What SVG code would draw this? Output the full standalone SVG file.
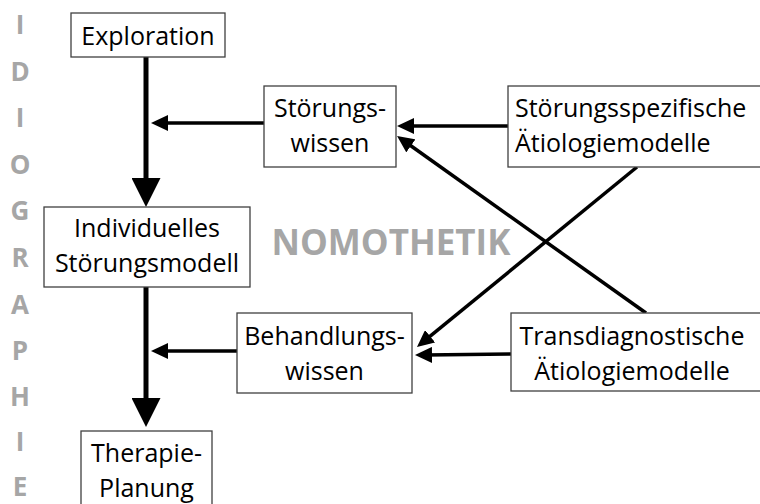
<svg xmlns="http://www.w3.org/2000/svg" width="760" height="504" viewBox="0 0 760 504">
<defs>
<style>
.box{fill:#fff;stroke:#404040;stroke-width:1.3}
.t{font-family:"Open Sans","Noto Sans",sans-serif;font-size:25px;fill:#000;text-anchor:middle}
.g{font-family:"Open Sans","Noto Sans",sans-serif;font-weight:bold;fill:#a6a6a6;text-anchor:middle}
.thick{stroke:#000;stroke-width:5;fill:none}
.thin{stroke:#000;stroke-width:3.5;fill:none}
</style>
<marker id="big" markerUnits="userSpaceOnUse" viewBox="0 0 29 29" markerWidth="29" markerHeight="29" refX="12" refY="14.5" orient="auto"><path d="M0,0 L29,14.5 L0,29 z" fill="#000"/></marker>
<marker id="small" markerUnits="userSpaceOnUse" viewBox="0 0 17 16" markerWidth="17" markerHeight="16" refX="7" refY="8" orient="auto"><path d="M0,0 L17,8 L0,16 z" fill="#000"/></marker>
</defs>
<rect width="760" height="504" fill="#fff"/>
<g id="idiographie" class="g" font-size="26">
<text x="20" y="34">I</text>
<text x="20" y="81">D</text>
<text x="20" y="127">I</text>
<text x="20" y="174">O</text>
<text x="20" y="220">G</text>
<text x="20" y="267">R</text>
<text x="20" y="314">A</text>
<text x="20" y="360">P</text>
<text x="20" y="406">H</text>
<text x="20" y="451">I</text>
<text x="20" y="496">E</text>
</g>
<text id="nomothetik" class="g" font-size="35" x="391" y="255">NOMOTHETIK</text>
<g id="connectors">
<line class="thick" x1="146" y1="57" x2="146" y2="190" marker-end="url(#big)"/>
<line class="thick" x1="146" y1="287" x2="146" y2="410" marker-end="url(#big)"/>
<line class="thin" x1="264" y1="123" x2="161" y2="123" marker-end="url(#small)"/>
<line class="thin" x1="508" y1="126" x2="407" y2="126" marker-end="url(#small)"/>
<line class="thin" x1="646" y1="313" x2="405.2" y2="141.8" marker-end="url(#small)"/>
<line class="thin" x1="637" y1="167" x2="424.7" y2="340.7" marker-end="url(#small)"/>
<line class="thin" x1="511" y1="354" x2="425" y2="355" marker-end="url(#small)"/>
<line class="thin" x1="237" y1="351" x2="161" y2="351" marker-end="url(#small)"/>
</g>
<g id="exploration"><rect class="box" x="71" y="13" width="154" height="44"/><text class="t" x="148" y="45">Exploration</text></g>
<g id="stoerungswissen"><rect class="box" x="264" y="86" width="132" height="81"/><text class="t" x="330" y="117">Störungs-</text><text class="t" x="330" y="152">wissen</text></g>
<g id="stoerungsspezifische"><rect class="box" x="508" y="86" width="254" height="81"/><text class="t" x="515" y="117" style="text-anchor:start">Störungsspezifische</text><text class="t" x="515" y="152" style="text-anchor:start">Ätiologiemodelle</text></g>
<g id="individuelles"><rect class="box" x="44" y="207" width="206" height="80"/><text class="t" x="147" y="237">Individuelles</text><text class="t" x="147" y="272">Störungsmodell</text></g>
<g id="behandlungswissen"><rect class="box" x="237" y="313" width="175" height="80"/><text class="t" x="324.5" y="345">Behandlungs-</text><text class="t" x="324.5" y="380">wissen</text></g>
<g id="transdiagnostische"><rect class="box" x="511" y="313" width="251" height="78"/><text class="t" x="632" y="345">Transdiagnostische</text><text class="t" x="632" y="380">Ätiologiemodelle</text></g>
<g id="therapie"><rect class="box" x="81" y="431" width="131" height="80"/><text class="t" x="146.5" y="462">Therapie-</text><text class="t" x="146.5" y="497">Planung</text></g>
</svg>
